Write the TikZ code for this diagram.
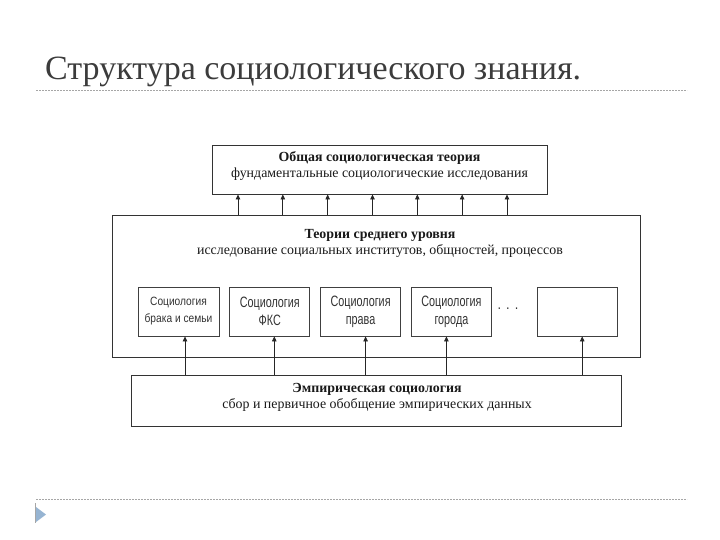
\documentclass[tikz,border=0pt]{standalone}
\usepackage{fontspec}
\setmainfont{Liberation Serif}
\newfontfamily\narrowsans[FakeStretch=0.72]{Liberation Sans}
\newfontfamily\smallsans[FakeStretch=0.85]{Liberation Sans}
\newfontfamily\titlefont{Liberation Serif}
\usepackage{xcolor}
\usetikzlibrary{positioning}
\usetikzlibrary{arrows.meta}

\definecolor{slidegray}{RGB}{60,60,60}
\definecolor{bulletblue}{RGB}{150,180,210}

\tikzset{
  levelbox/.style={draw=black!80, line width=0.9pt, inner sep=0pt},
  leveltext/.style={align=center, inner sep=0pt, text=black!90, font=\fontsize{13.9}{16}\selectfont},
  branch/.style={draw=black!75, line width=0.8pt, minimum width=80pt, minimum height=49pt,
    inner sep=0pt, align=center, text=black!80, font=\narrowsans\fontsize{15}{18}\selectfont},
  up/.style={-{Triangle[length=5pt,width=4.5pt]}, line width=0.8pt, black!85},
  rule/.style={draw=black!35, dash pattern=on 2pt off 1pt, line width=0.7pt}
}

\begin{document}
\begin{tikzpicture}[x=1pt, y=-1pt]
  \useasboundingbox (0,0) rectangle (720,540);
  \def\arrowstep{44.83}

  % title and rules
  \node[anchor=base west, inner sep=0pt, text=slidegray, font=\titlefont\fontsize{34}{34}\selectfont]
    (title) at (45,80) {Структура социологического знания.};
  \coordinate (r1a) at (36,90);
  \coordinate (r1b) at (687,90);
  \coordinate (r2a) at (36,499);
  \coordinate (r2b) at (687,499);
  \draw[rule] (r1a) -- (r1b);
  \draw[rule] (r2a) -- (r2b);
  \fill[bulletblue] (36,507) -- (46,514.5) -- (36,522) -- cycle;
  \draw[black!35, line width=0.6pt] (35.5,503) -- (35.5,523);

  % general theory
  \node[levelbox, minimum width=335pt, minimum height=49pt] (theory) at (379.5,169.5) {};
  \node[leveltext] (theorytxt) at (379.5,166) {\textbf{Общая социологическая теория}\\
    фундаментальные социологические исследования};

  % middle level
  \node[levelbox, minimum width=528pt, minimum height=142pt] (middle) at (376,286.5) {};
  \node[leveltext] (middletxt) at (380,243) {\textbf{Теории среднего уровня}\\
    исследование социальных институтов, общностей, процессов};

  \node[branch, minimum width=81pt, font=\smallsans\fontsize{12}{17}\selectfont]
    (family) at (178.5,311.5) {Социология\\брака и семьи};
  \node[branch, right=10pt of family] (fks) {Социология\\ФКС};
  \node[branch, right=10pt of fks] (law) {Социология\\права};
  \node[branch, right=10pt of law] (city) {Социология\\города};
  \node[branch, right=45pt of city] (other) {};
  \node[inner sep=0pt, text=black!80, font=\smallsans\fontsize{15}{15}\selectfont]
    (dots) at (508,309) {.\,\,.\,\,.};

  % empirical
  \node[levelbox, minimum width=490pt, minimum height=51pt] (empiric) at (376,400.5) {};
  \node[leveltext] (empirictxt) at (377,397) {\textbf{Эмпирическая социология}\\
    сбор и первичное обобщение эмпирических данных};

  % arrows up to general theory
  \foreach \i in {0,...,6} {
    \coordinate (t\i) at (238+\arrowstep*\i,0);
    \draw[up] (middle.north -| t\i) -- (theory.south -| t\i);
  }

  % arrows up to branches
  \coordinate (a1) at ([xshift=6.5pt]family.south);
  \coordinate (a2) at ([xshift=4.5pt]fks.south);
  \coordinate (a3) at ([xshift=5pt]law.south);
  \coordinate (a4) at ([xshift=-5pt]city.south);
  \coordinate (a5) at ([xshift=5pt]other.south);
  \foreach \a in {a1,a2,a3,a4,a5}
    \draw[up] (empiric.north -| \a) -- (\a);

\end{tikzpicture}
\end{document}
